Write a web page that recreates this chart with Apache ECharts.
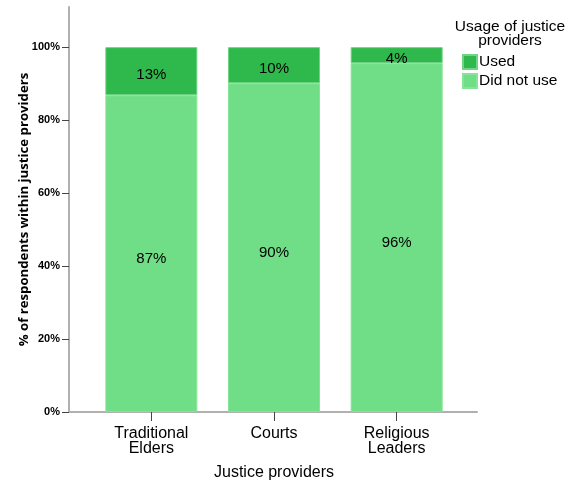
<!DOCTYPE html>
<html>
<head>
<meta charset="utf-8">
<script src="https://cdn.jsdelivr.net/npm/echarts@6/dist/echarts.min.js"></script>
<style>
html,body{margin:0;padding:0;background:#fff;}
#c{width:565px;height:483px;}
</style>
</head>
<body>
<div id="c"></div>
<script>
const categories = ['Traditional\nElders', 'Courts', 'Religious\nLeaders'];
const usedValues = [13.2, 9.9, 4.4];
const notUsedValues = [86.8, 90.1, 95.6];
const yTicks = [0, 20, 40, 60, 80, 100];
const legendNames = ['Used', 'Did not use'];

const FONT = 'Liberation Sans, Arial, sans-serif';
const chart = echarts.init(document.getElementById('c'), null, {renderer: 'canvas'});

function barLabel(dy) {
  return {
    show: true,
    position: 'inside',
    offset: [0, dy],
    color: '#000',
    fontFamily: FONT,
    fontSize: 15,
    formatter: p => Math.round(p.value) + '%'
  };
}

chart.setOption({
  animation: false,
  backgroundColor: '#fff',
  title: {
    text: 'Usage of justice\nproviders',
    left: 510,
    top: 19,
    padding: 0,
    textAlign: 'center',
    textStyle: {fontFamily: FONT, fontSize: 15.5, fontWeight: 'normal', color: '#000', lineHeight: 14.5}
  },
  legend: {
    data: legendNames,
    orient: 'vertical',
    left: 462,
    top: 54,
    itemWidth: 14,
    itemHeight: 14,
    itemGap: 3,
    padding: 0,
    icon: 'rect',
    textStyle: {fontFamily: FONT, fontSize: 15.5, color: '#000', padding: [0, 0, 0, -3]}
  },
  grid: [
    {left: 69, right: 88, top: 7, bottom: 71, outerBoundsMode: 'none', containLabel: false},
    {left: 90, right: 107, top: 7, bottom: 71, outerBoundsMode: 'none', containLabel: false}
  ],
  xAxis: [
    {
      type: 'value', gridIndex: 0, min: 0, max: 1,
      axisLine: {show: true, lineStyle: {color: '#b0b0b0', width: 2}},
      axisTick: {show: false}, axisLabel: {show: false}, splitLine: {show: false}
    },
    {
      type: 'category', gridIndex: 1, data: categories,
      axisLine: {show: false},
      axisTick: {show: true, alignWithLabel: true, length: 9, lineStyle: {color: '#444', width: 1}},
      axisLabel: {fontFamily: FONT, fontSize: 16, color: '#000', lineHeight: 15, margin: 14},
      name: 'Justice providers',
      nameLocation: 'middle',
      nameGap: 53,
      nameMoveOverlap: false,
      nameTextStyle: {fontFamily: FONT, fontSize: 16, color: '#000'}
    }
  ],
  yAxis: [
    {
      type: 'value', gridIndex: 0, min: 0, max: 111,
      axisLine: {show: true, lineStyle: {color: '#b0b0b0', width: 2}},
      axisTick: {show: true, length: 7, customValues: yTicks, lineStyle: {color: '#444', width: 1}},
      axisLabel: {customValues: yTicks, formatter: v => v + '%', fontFamily: FONT, fontSize: 11, fontWeight: 'bold', color: '#000', margin: 9},
      splitLine: {show: false},
      name: '% of respondents within justice providers',
      nameLocation: 'middle',
      nameGap: 38,
      nameMoveOverlap: false,
      nameTextStyle: {fontFamily: 'Open Sans, Noto Sans, sans-serif', fontSize: 13.2, fontWeight: 'bold', color: '#000'}
    },
    {
      type: 'value', gridIndex: 1, min: 0, max: 111, show: false
    }
  ],
  series: [
    {
      name: 'Did not use', type: 'bar', stack: 's', xAxisIndex: 1, yAxisIndex: 1,
      data: notUsedValues, barWidth: 92,
      itemStyle: {color: '#70de86', borderColor: '#86e498', borderWidth: 1},
      label: barLabel(5)
    },
    {
      name: 'Used', type: 'bar', stack: 's', xAxisIndex: 1, yAxisIndex: 1,
      data: usedValues, barWidth: 92,
      itemStyle: {color: '#2fb84b', borderColor: '#6fd484', borderWidth: 1},
      label: barLabel(4)
    }
  ]
});
</script>
</body>
</html>
